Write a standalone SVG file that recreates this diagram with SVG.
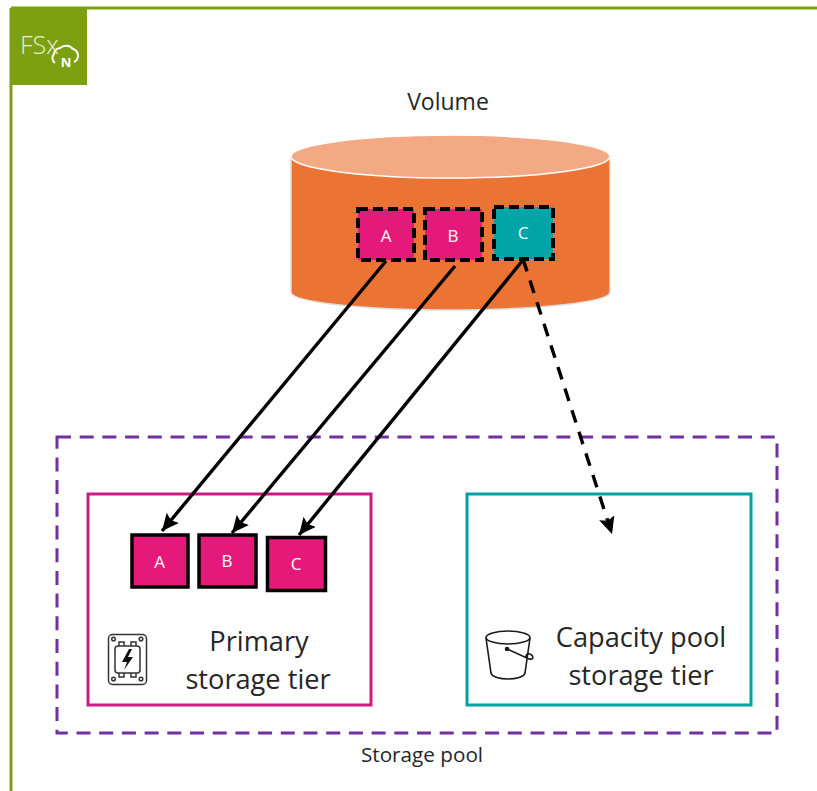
<svg xmlns="http://www.w3.org/2000/svg" width="817" height="791" viewBox="0 0 817 791">
<defs>
<style>
text{font-family:"Open Sans","Noto Sans","Liberation Sans",sans-serif;text-anchor:middle}
.lab{font-size:27.200px;fill:#262626}
.sq{font-size:17px;fill:#fff}
.dash{stroke:#000;stroke-width:4;stroke-dasharray:10 5;fill:none}
.solid{stroke:#000;stroke-width:3.5;fill:#E5197A}
.conn{stroke:#000;stroke-width:3.400;fill:none}
.ic{fill:none;stroke:#333;stroke-width:1.5}
</style>
<marker id="arr" markerUnits="userSpaceOnUse" markerWidth="18" markerHeight="16" refX="17" refY="8" orient="auto"><path d="M0 0L17 8L0 16L3 8Z" fill="#000"/></marker>
</defs>
<rect width="817" height="791" fill="#fff"/>
<g id="frame">
<path d="M11 8H817M11 8V791" fill="none" stroke="#7E9F12" stroke-width="3"/>
<rect x="10" y="8" width="77" height="77" fill="#7D9F12"/>
<text x="20" y="54" style="font-size:25px;fill:#E8EFD0;font-weight:300;text-anchor:start">FSx</text>
<path d="M55 63a6 6 0 0 1-1-9a7 7 0 0 1 6-6a9 9 0 0 1 13 1a7 7 0 0 1 1 13" fill="none" stroke="#fff" stroke-width="2"/>
<text x="66" y="67" style="font-size:13px;fill:#fff;font-weight:700">N</text>
</g>
<g id="volume">
<path d="M291 157V292C291 302 362 310 450.500 310C539 310 610 302 610 292V157Z" fill="#EB7333" stroke="#ddd" stroke-width="1.500"/>
<ellipse cx="450.500" cy="156.500" rx="159.500" ry="21.500" fill="#F3AA84" stroke="#fff" stroke-width="1.500"/>
<text x="448" y="110" style="font-size:23px;fill:#262626">Volume</text>
</g>
<g id="vol-a"><rect x="358" y="209" width="56" height="51" fill="#E5197A"/><rect x="358" y="209" width="56" height="51" class="dash"/><text x="386" y="242" class="sq">A</text></g>
<g id="vol-b"><rect x="425" y="209" width="57" height="51" fill="#E5197A"/><rect x="425" y="209" width="57" height="51" class="dash"/><text x="453" y="242" class="sq">B</text></g>
<g id="vol-c"><rect x="494" y="207" width="59" height="52" fill="#00A5A8"/><rect x="494" y="207" width="59" height="52" class="dash"/><text x="523" y="239" class="sq">C</text></g>
<g id="storage-pool">
<rect x="57" y="437" width="720" height="296" fill="none" stroke="#7030A0" stroke-width="3" stroke-dasharray="14 8.700"/>
<text x="422" y="762" style="font-size:20.700px;fill:#262626">Storage pool</text>
</g>
<g id="primary-tier">
<rect x="88" y="494" width="283" height="211" fill="none" stroke="#CC1A85" stroke-width="3"/>
<text x="259" y="651" class="lab">Primary</text>
<text x="258" y="689" class="lab">storage tier</text>
<g id="ssd-icon" class="ic">
<rect x="108.500" y="634.500" width="38" height="50" rx="4"/>
<rect x="115" y="646" width="25" height="27" rx="3"/>
<path d="M119 646v-4h5v4M131 646v-4h5v4M119 673v4h5v-4M131 673v4h5v-4"/>
<circle cx="113.500" cy="639" r="1.800"/><circle cx="141" cy="639" r="1.800"/><circle cx="113.500" cy="679" r="1.800"/><circle cx="141" cy="679" r="1.800"/>
<path d="M129 649L122 662H127L124 670L133 657H128L132 649Z" fill="#111" stroke="none"/>
</g>
</g>
<g id="tier-a"><rect x="132" y="535" width="56" height="52" class="solid"/><text x="159.500" y="568" class="sq">A</text></g>
<g id="tier-b"><rect x="199" y="535" width="57" height="52" class="solid"/><text x="227" y="567" class="sq">B</text></g>
<g id="tier-c"><rect x="267.500" y="537.500" width="58" height="53" class="solid"/><text x="296" y="570" class="sq">C</text></g>
<g id="capacity-tier">
<rect x="467" y="494" width="284" height="211" fill="none" stroke="#00A0A3" stroke-width="3"/>
<text x="641" y="647" class="lab">Capacity pool</text>
<text x="641" y="685" class="lab">storage tier</text>
<g id="bucket-icon" fill="none" stroke="#1a1a1a" stroke-width="1.600">
<ellipse cx="508" cy="637.500" rx="22" ry="6.500"/>
<path d="M486 638L491 673C493 681 523 681 525 673L530 638"/>
<path d="M507 649L529 659C534 660 534 656 530 654C527 653 526 655 526 657" stroke-width="1.600"/>
<circle cx="507" cy="649" r="1.500" fill="#1a1a1a"/>
</g>
</g>
<g id="connectors">
<path d="M386 261L162 531" class="conn" marker-end="url(#arr)"/>
<path d="M455 266L232 533" class="conn" marker-end="url(#arr)"/>
<path d="M523 260L299 535" class="conn" marker-end="url(#arr)"/>
<path d="M523 259L612 534" class="conn" stroke-dasharray="13 9.700" marker-end="url(#arr)"/>
</g>
</svg>
